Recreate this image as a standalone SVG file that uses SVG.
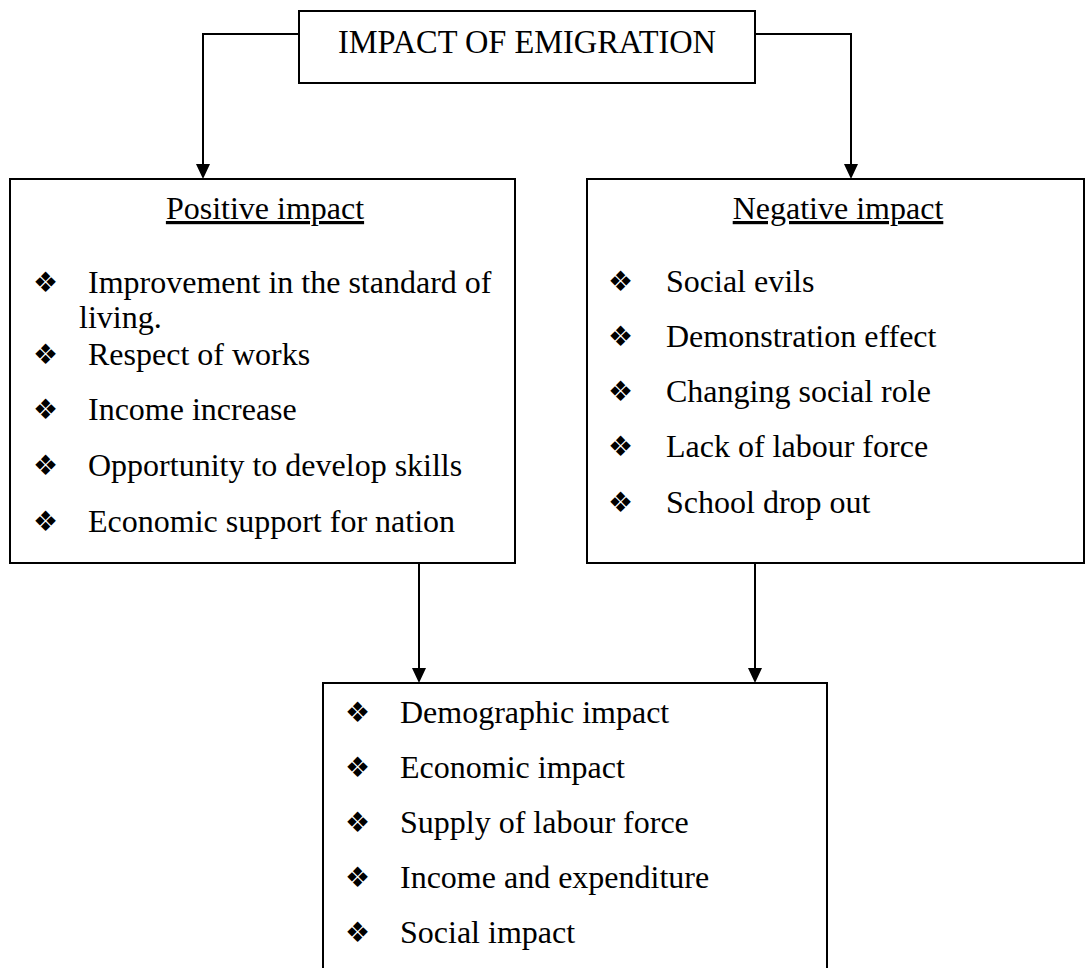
<svg xmlns="http://www.w3.org/2000/svg" width="1087" height="968" viewBox="0 0 1087 968">
  <style>
    .box { fill: #ffffff; stroke: #000000; stroke-width: 2; }
    .wire { fill: none; stroke: #000000; stroke-width: 2; }
    .head-arrow { fill: #000000; }
    .txt { font-family: "Liberation Serif", "Times New Roman", serif; font-size: 32px; fill: #000000; }
    .title { font-size: 34px; text-anchor: middle; }
    .head { text-decoration: underline; text-anchor: middle; }
    .bul { font-family: "DejaVu Sans", sans-serif; font-size: 28px; fill: #000000; }
  </style>
  <rect width="1087" height="968" fill="#ffffff"/>

  <!-- connectors -->
  <g id="connectors">
    <path class="wire" d="M299,34 H203 V165"/>
    <path class="head-arrow" d="M196,164 L210,164 L203,179 Z"/>
    <path class="wire" d="M755,34 H851 V165"/>
    <path class="head-arrow" d="M844,164 L858,164 L851,179 Z"/>
    <path class="wire" d="M419,563 V669"/>
    <path class="head-arrow" d="M412,668 L426,668 L419,683 Z"/>
    <path class="wire" d="M755,563 V669"/>
    <path class="head-arrow" d="M748,668 L762,668 L755,683 Z"/>
  </g>

  <!-- title -->
  <g id="title">
    <rect class="box" x="299" y="11" width="456" height="72"/>
    <text class="txt title" x="527" y="53" textLength="378" lengthAdjust="spacingAndGlyphs">IMPACT OF EMIGRATION</text>
  </g>

  <!-- positive impact -->
  <g id="positive">
    <rect class="box" x="10" y="179" width="505" height="384"/>
    <text class="txt head" x="265" y="219">Positive impact</text>
    <text class="bul" x="33" y="292">❖</text>
    <text class="txt" x="88" y="293">Improvement in the standard of</text>
    <text class="txt" x="79" y="328">living.</text>
    <text class="bul" x="33" y="364">❖</text>
    <text class="txt" x="88" y="365">Respect of works</text>
    <text class="bul" x="33" y="419">❖</text>
    <text class="txt" x="88" y="420">Income increase</text>
    <text class="bul" x="33" y="475">❖</text>
    <text class="txt" x="88" y="476">Opportunity to develop skills</text>
    <text class="bul" x="33" y="531">❖</text>
    <text class="txt" x="88" y="532">Economic support for nation</text>
  </g>

  <!-- negative impact -->
  <g id="negative">
    <rect class="box" x="587" y="179" width="497" height="384"/>
    <text class="txt head" x="838" y="219">Negative impact</text>
    <text class="bul" x="608" y="291">❖</text>
    <text class="txt" x="666" y="292">Social evils</text>
    <text class="bul" x="608" y="346">❖</text>
    <text class="txt" x="666" y="347">Demonstration effect</text>
    <text class="bul" x="608" y="401">❖</text>
    <text class="txt" x="666" y="402">Changing social role</text>
    <text class="bul" x="608" y="456">❖</text>
    <text class="txt" x="666" y="457">Lack of labour force</text>
    <text class="bul" x="608" y="512">❖</text>
    <text class="txt" x="666" y="513">School drop out</text>
  </g>

  <!-- combined impacts -->
  <g id="overall">
    <rect class="box" x="323" y="683" width="504" height="300"/>
    <text class="bul" x="345" y="722">❖</text>
    <text class="txt" x="400" y="723">Demographic impact</text>
    <text class="bul" x="345" y="777">❖</text>
    <text class="txt" x="400" y="778">Economic impact</text>
    <text class="bul" x="345" y="832">❖</text>
    <text class="txt" x="400" y="833">Supply of labour force</text>
    <text class="bul" x="345" y="887">❖</text>
    <text class="txt" x="400" y="888">Income and expenditure</text>
    <text class="bul" x="345" y="942">❖</text>
    <text class="txt" x="400" y="943">Social impact</text>
  </g>
</svg>
